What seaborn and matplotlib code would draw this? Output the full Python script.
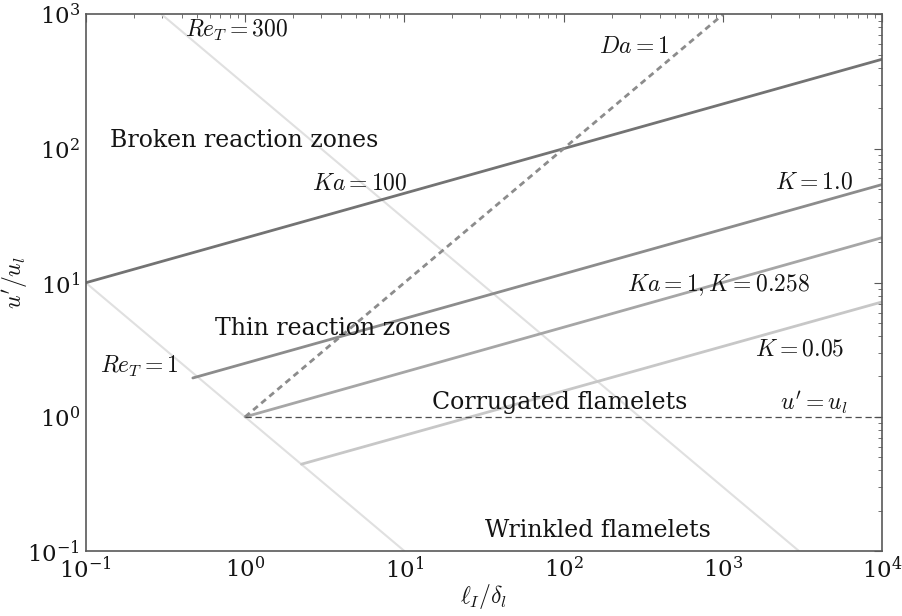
import matplotlib
matplotlib.use("Agg")
import matplotlib.pyplot as plt
import seaborn as sns
import pandas as pd

# Line endpoints (x = l_I/delta_l, y = u'/u_l)
ret1_x = [0.1, 10.0]
ret1_y = [10.0, 0.1]
ret300_x = [0.3, 3000.0]
ret300_y = [1000.0, 0.1]
ka100_x = [0.1, 1.0e4]
ka100_y = [10.0, 464.0]
k1_x = [0.47, 1.0e4]
k1_y = [1.95, 54.0]
ka1_x = [1.0, 1.0e4]
ka1_y = [1.0, 21.7]
k005_x = [2.26, 1.0e4]
k005_y = [0.444, 7.2]
da1_x = [1.0, 1000.0]
da1_y = [1.0, 1000.0]
uul_x = [1.0, 1.0e4]
uul_y = [1.0, 1.0]

sns.set_theme(style="white")
plt.rcParams.update({
    "font.family": ["DejaVu Serif"],
    "mathtext.fontset": "cm",
    "font.size": 16,
    "text.color": "0.08",
    "axes.labelcolor": "0.08",
    "xtick.color": "0.08",
    "ytick.color": "0.08",
    "xtick.direction": "in",
    "ytick.direction": "in",
    "xtick.top": True,
    "ytick.right": True,
    "xtick.labelsize": 16.5,
    "ytick.labelsize": 16.5,
    "axes.edgecolor": "0.35",
    "axes.linewidth": 1.2,
})

fig = plt.figure(figsize=(9.03, 6.16), dpi=100)
ax = fig.add_axes([0.095, 0.1055, 0.882, 0.871])

def seg(x, y, **kw):
    df = pd.DataFrame({"x": x, "y": y})
    sns.lineplot(data=df, x="x", y="y", ax=ax, estimator=None, sort=False, **kw)

seg(ret1_x, ret1_y, color="0.88", lw=1.5)
seg(ret300_x, ret300_y, color="0.88", lw=1.5)
seg(ka100_x, ka100_y, color="0.45", lw=2)
seg(k1_x, k1_y, color="0.55", lw=2)
seg(ka1_x, ka1_y, color="0.65", lw=2)
seg(k005_x, k005_y, color="0.78", lw=2)
seg(da1_x, da1_y, color="0.55", lw=2, linestyle=(0, (2.2, 1.6)))
seg(uul_x, uul_y, color="0.3", lw=0.9, linestyle=(0, (5, 3)))

ax.set_xscale("log")
ax.set_yscale("log")
ax.set_xlim(0.1, 1e4)
ax.set_ylim(0.1, 1e3)
ax.set_xlabel(r"$\ell_I/\delta_l$", fontsize=17, labelpad=-1)
ax.set_ylabel(r"$u'/u_l$", fontsize=17)
ax.yaxis.set_label_coords(-0.071, 0.5)
ax.tick_params(which="major", length=6, color="0.35", width=0.8, pad=4)
ax.tick_params(which="minor", length=3, color="0.35", width=0.6)
ax.minorticks_on()

tk = dict(va="center", ha="left")
mf = 17
pf = 17
ax.text(0.42, 755, r"$Re_T=300$", fontsize=mf, **tk)
ax.text(0.1416, 114, "Broken reaction zones", fontsize=pf, **tk)
ax.text(2.63, 55.5, r"$Ka=100$", fontsize=mf, **tk)
ax.text(167, 574, r"$Da=1$", fontsize=mf, **tk)
ax.text(2130, 56.4, r"$K=1.0$", fontsize=mf, **tk)
ax.text(250, 9.6, r"$Ka=1,K=0.258$", fontsize=mf, **tk)
ax.text(0.646, 4.59, "Thin reaction zones", fontsize=pf, **tk)
ax.text(0.1225, 2.39, r"$Re_T=1$", fontsize=mf, **tk)
ax.text(1592, 3.2, r"$K=0.05$", fontsize=mf, **tk)
ax.text(14.9, 1.29, "Corrugated flamelets", fontsize=pf, **tk)
ax.text(2291, 1.29, r"$u'=u_l$", fontsize=mf, **tk)
ax.text(32, 0.143, "Wrinkled flamelets", fontsize=pf, **tk)

fig.savefig("out.png", dpi=100)
